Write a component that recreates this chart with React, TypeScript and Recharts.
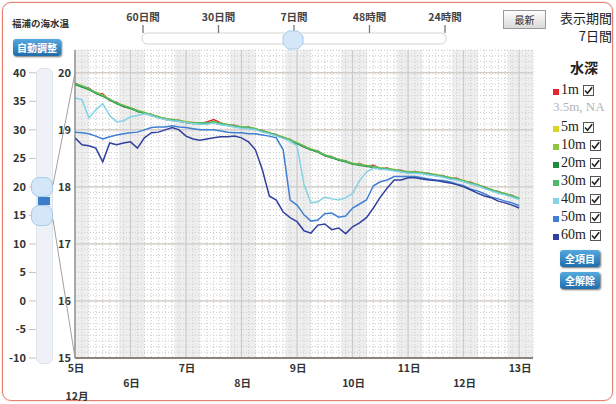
import React from 'react';
import { LineChart, Line, XAxis, YAxis, CartesianGrid, ReferenceArea } from 'recharts';

// 5日 00:00 からの経過時間 (3時間ごと)
const hours = [
  0, 3, 6, 9, 12, 15, 18, 21, 24, 27, 30, 33, 36, 39, 42, 45, 48, 51, 54, 57, 60, 63, 66, 69, 72, 75,
  78, 81, 84, 87, 90, 93, 96, 99, 102, 105, 108, 111, 114, 117, 120, 123, 126, 129, 132, 135, 138,
  141, 144, 147, 150, 153, 156, 159, 162, 165, 168, 171, 174, 177, 180, 183, 186, 189, 192,
];

const m1 = [
  19.82, 19.76, 19.73, 19.64, 19.63, 19.52, 19.48, 19.41, 19.38, 19.34, 19.29, 19.27, 19.22, 19.2, 19.17,
  19.17, 19.13, 19.13, 19.11, 19.14, 19.18, 19.12, 19.08, 19.08, 19.04, 19.05, 19.01, 18.99, 18.94, 18.92,
  18.86, 18.83, 18.76, 18.72, 18.65, 18.63, 18.55, 18.53, 18.47, 18.46, 18.4, 18.41, 18.36, 18.38, 18.32,
  18.33, 18.29, 18.29, 18.25, 18.27, 18.24, 18.24, 18.2, 18.2, 18.15, 18.15, 18.1, 18.08, 18.03, 18.0,
  17.94, 17.92, 17.87, 17.85, 17.79,
];
const m5 = [
  19.8, 19.78, 19.71, 19.66, 19.61, 19.54, 19.46, 19.43, 19.38, 19.34, 19.31, 19.25, 19.24, 19.18, 19.19,
  19.15, 19.15, 19.11, 19.13, 19.11, 19.15, 19.1, 19.1, 19.06, 19.06, 19.03, 19.03, 18.97, 18.96, 18.9,
  18.88, 18.81, 18.78, 18.7, 18.67, 18.61, 18.57, 18.51, 18.49, 18.44, 18.42, 18.38, 18.38, 18.34, 18.34,
  18.31, 18.31, 18.27, 18.27, 18.25, 18.26, 18.22, 18.22, 18.18, 18.17, 18.13, 18.12, 18.06, 18.05, 17.98,
  17.96, 17.9, 17.89, 17.83, 17.81,
];
const m10 = [
  19.79, 19.76, 19.7, 19.66, 19.59, 19.54, 19.46, 19.43, 19.37, 19.34, 19.29, 19.27, 19.22, 19.2, 19.17,
  19.16, 19.13, 19.13, 19.11, 19.12, 19.13, 19.12, 19.08, 19.07, 19.04, 19.05, 19.01, 18.98, 18.94, 18.91,
  18.86, 18.83, 18.76, 18.72, 18.65, 18.62, 18.55, 18.53, 18.47, 18.45, 18.4, 18.4, 18.36, 18.36, 18.32,
  18.32, 18.29, 18.28, 18.25, 18.26, 18.24, 18.23, 18.2, 18.19, 18.15, 18.14, 18.1, 18.07, 18.03, 17.99,
  17.94, 17.91, 17.87, 17.84, 17.79,
];
const m20 = [
  19.8, 19.75, 19.71, 19.64, 19.59, 19.52, 19.46, 19.41, 19.38, 19.32, 19.29, 19.25, 19.22, 19.18, 19.17,
  19.15, 19.13, 19.11, 19.11, 19.11, 19.12, 19.1, 19.08, 19.06, 19.04, 19.03, 19.01, 18.97, 18.94, 18.9,
  18.86, 18.81, 18.76, 18.7, 18.65, 18.61, 18.55, 18.51, 18.47, 18.44, 18.4, 18.38, 18.36, 18.34, 18.32,
  18.31, 18.29, 18.27, 18.25, 18.25, 18.24, 18.22, 18.2, 18.18, 18.15, 18.13, 18.1, 18.06, 18.03, 17.98,
  17.94, 17.9, 17.87, 17.83, 17.79,
];
const m30 = [
  19.81, 19.77, 19.72, 19.65, 19.6, 19.53, 19.47, 19.42, 19.39, 19.33, 19.3, 19.26, 19.23, 19.19, 19.18,
  19.16, 19.14, 19.12, 19.12, 19.12, 19.14, 19.11, 19.09, 19.07, 19.05, 19.04, 19.02, 18.98, 18.95, 18.91,
  18.87, 18.82, 18.77, 18.71, 18.66, 18.62, 18.56, 18.52, 18.48, 18.45, 18.41, 18.39, 18.37, 18.35, 18.33,
  18.32, 18.3, 18.28, 18.26, 18.26, 18.25, 18.23, 18.21, 18.19, 18.16, 18.14, 18.11, 18.07, 18.04, 17.99,
  17.95, 17.91, 17.88, 17.84, 17.8,
];
const m40 = [
  19.56, 19.53, 19.21, 19.35, 19.46, 19.25, 19.14, 19.16, 19.23, 19.25, 19.28, 19.25, 19.21, 19.18, 19.16,
  19.15, 19.13, 19.11, 19.1, 19.1, 19.12, 19.09, 19.07, 19.05, 19.03, 19.02, 19.0, 18.96, 18.93, 18.89,
  18.85, 18.8, 18.72, 18.04, 17.72, 17.74, 17.82, 17.79, 17.77, 17.81, 17.88, 18.11, 18.26, 18.33, 18.31,
  18.3, 18.28, 18.26, 18.24, 18.24, 18.23, 18.21, 18.19, 18.17, 18.14, 18.12, 18.09, 18.05, 18.02, 17.97,
  17.93, 17.89, 17.86, 17.82, 17.78,
];
const m50 = [
  18.96, 18.95, 18.93, 18.89, 18.84, 18.88, 18.91, 18.93, 18.95, 18.96, 19.0, 19.04, 19.05, 19.05, 19.07,
  19.05, 19.04, 19.02, 19.0, 19.0, 19.0, 18.98, 18.96, 18.95, 18.95, 18.93, 18.93, 18.91, 18.89, 18.86,
  18.65, 17.77, 17.68, 17.51, 17.4, 17.42, 17.53, 17.54, 17.47, 17.49, 17.63, 17.7, 17.77, 18.02, 18.09,
  18.12, 18.18, 18.18, 18.18, 18.18, 18.16, 18.14, 18.12, 18.11, 18.09, 18.05, 18.02, 17.96, 17.93, 17.88,
  17.82, 17.79, 17.75, 17.72, 17.67,
];
const m60 = [
  18.86, 18.74, 18.72, 18.68, 18.44, 18.77, 18.74, 18.77, 18.79, 18.68, 18.86, 18.95, 18.96, 19.0, 19.04,
  19.0, 18.89, 18.84, 18.82, 18.84, 18.86, 18.88, 18.88, 18.89, 18.86, 18.79, 18.65, 18.3, 17.84, 17.77,
  17.56, 17.46, 17.39, 17.23, 17.19, 17.33, 17.35, 17.25, 17.28, 17.18, 17.3, 17.37, 17.46, 17.63, 17.82,
  17.98, 18.12, 18.12, 18.16, 18.16, 18.14, 18.12, 18.11, 18.09, 18.07, 18.04, 18.0, 17.95, 17.89, 17.84,
  17.81, 17.75, 17.72, 17.68, 17.63,
];

const dayTicks = [0, 24, 48, 72, 96, 120, 144, 168, 192];
const dayLabels = ['5日', '6日', '7日', '8日', '9日', '10日', '11日', '12日', '13日'];
const tempTicks = [15, 16, 17, 18, 19, 20];
const rangeTicks = [-10, -5, 0, 5, 10, 15, 20, 25, 30, 35, 40];
// 夜間 (灰色の帯)
const nightBands = [
  [0, 6], [19, 30], [43, 54], [67, 78], [91, 102], [115, 126], [139, 150], [163, 174], [187, 198],
];
const periodLabels = ['60日間', '30日間', '7日間', '48時間', '24時間'];

const series = [
  { key: 'm1', name: '1m', color: '#e3262b' },
  { key: 'm5', name: '5m', color: '#d9d528' },
  { key: 'm10', name: '10m', color: '#8cc63f' },
  { key: 'm20', name: '20m', color: '#1f8a3b' },
  { key: 'm30', name: '30m', color: '#4dba6a' },
  { key: 'm40', name: '40m', color: '#86d2e6' },
  { key: 'm50', name: '50m', color: '#3f80d2' },
  { key: 'm60', name: '60m', color: '#31409e' },
];

const rows = hours.map((h, i) => ({
  h, m1: m1[i], m5: m5[i], m10: m10[i], m20: m20[i], m30: m30[i], m40: m40[i], m50: m50[i], m60: m60[i],
}));

const W = 616;
const H = 404;
const TOP = 50;
const BOTTOM = 358;
const LEFT = 75;
const RIGHT = 533;
const T_DOMAIN = [15, 20.4];
const R_DOMAIN = [-10, 44];

const jp = '"Noto Sans CJK JP", "Noto Sans", sans-serif';
const serif = '"Liberation Serif", "DejaVu Serif", "Noto Sans CJK JP", serif';

const minorY: number[] = [];
for (let v = 151; v <= 204; v++) minorY.push(v / 10);
const minorX: number[] = [];
for (let v = 0; v <= 198; v += 3) minorX.push(v);

const yOf = (v: number, d: number[]) => TOP + ((d[1] - v) / (d[1] - d[0])) * (BOTTOM - TOP);

const DayTick = (props: any) => {
  const { x, y, payload } = props;
  const idx = dayTicks.indexOf(payload.value);
  const odd = idx % 2 === 1;
  return (
    <g>
      <text x={x + 1} y={y + (odd ? 29 : 14)} textAnchor="middle" fontSize={10.5} fontWeight="bold" fill="#333" fontFamily={jp}>
        {dayLabels[idx]}
      </text>
      {idx === 0 && (
        <text x={x + 2} y={y + 42} textAnchor="middle" fontSize={10.5} fontWeight="bold" fill="#333" fontFamily={jp}>
          12月
        </text>
      )}
    </g>
  );
};

const Check = () => (
  <svg width="11" height="11" style={{ marginLeft: 4 }}>
    <rect x="0.5" y="0.5" width="10" height="10" fill="#fff" stroke="#555" />
    <path d="M2 5.5 L4.5 8.2 L9.2 2.2" stroke="#222" strokeWidth="1.6" fill="none" />
  </svg>
);

const blueBtn: React.CSSProperties = {
  position: 'absolute',
  background: 'linear-gradient(#55a9de, #1f6dab)',
  color: '#fff',
  fontSize: 10,
  fontWeight: 'bold',
  borderRadius: 3,
  boxShadow: '1px 1px 2px rgba(0,0,0,0.55)',
  display: 'flex',
  alignItems: 'center',
  justifyContent: 'center',
  fontFamily: jp,
};

const legendRows = [
  { ...series[0], y: 90 },
  { ...series[1], y: 127 },
  { ...series[2], y: 145 },
  { ...series[3], y: 163 },
  { ...series[4], y: 181 },
  { ...series[5], y: 199 },
  { ...series[6], y: 217 },
  { ...series[7], y: 235 },
];

export default function App() {
  const hiY = yOf(20, R_DOMAIN);
  const loY = yOf(15, R_DOMAIN);
  const topT = yOf(20, T_DOMAIN);
  const sliderX0 = 143;
  const sliderX1 = 445;
  return (
    <div style={{ position: 'fixed', left: 0, top: 0, width: W, height: H, background: '#fff', fontFamily: jp, overflow: 'hidden' }}>
      <div style={{ position: 'absolute', left: 2, top: 2, width: 609, height: 397, border: '1.5px solid #e3806f', borderRadius: 9, boxShadow: '0 0 2px rgba(225,110,90,0.5)' }} />

      <div style={{ position: 'absolute', left: 0, top: 0 }}>
        <LineChart width={W} height={H} data={rows} margin={{ top: TOP, right: W - RIGHT, bottom: 0, left: 0 }}>
          <CartesianGrid yAxisId="a" horizontalValues={minorY} verticalValues={minorX} stroke="#cacaca" strokeDasharray="1 2" />
          <CartesianGrid yAxisId="a" horizontalValues={[16, 17, 18, 19, 20]} vertical={false} stroke="#c6bcb2" />
          <CartesianGrid yAxisId="a" verticalValues={dayTicks} horizontal={false} stroke="#c4c4c4" />
          {nightBands.map(([a, b], i) => (
            <ReferenceArea key={i} yAxisId="a" x1={a} x2={b} fill="#d2d2d2" fillOpacity={0.38} stroke="none" ifOverflow="hidden" />
          ))}
          <XAxis
            dataKey="h"
            type="number"
            domain={[0, 198]}
            ticks={dayTicks}
            interval={0}
            tick={<DayTick />}
            tickLine={false}
            tickSize={0}
            tickMargin={0}
            axisLine={{ stroke: '#8f8279', strokeWidth: 2 }}
            height={46}
            allowDataOverflow
          />
          <YAxis
            yAxisId="a"
            domain={T_DOMAIN}
            ticks={tempTicks}
            interval={0}
            width={38}
            tickLine={false}
            tickSize={0}
            tickMargin={4}
            axisLine={{ stroke: '#777' }}
            tick={{ fontSize: 11, fill: '#333', fontWeight: 'bold', fontFamily: jp }}
            allowDataOverflow
          />
          <YAxis
            yAxisId="z"
            domain={R_DOMAIN}
            ticks={rangeTicks}
            interval={0}
            width={37}
            axisLine={false}
            tickLine={{ stroke: '#c4c4c4' }}
            tickSize={8}
            tickMargin={3}
            tick={{ fontSize: 11, fill: '#333', fontWeight: 'bold', fontFamily: jp }}
            allowDataOverflow
          />
          {series.map((s) => (
            <Line
              key={s.key}
              yAxisId="a"
              type="linear"
              dataKey={s.key}
              stroke={s.color}
              strokeWidth={1.5}
              dot={false}
              isAnimationActive={false}
            />
          ))}
        </LineChart>
      </div>

      {/* ズーム範囲スライダー */}
      <div style={{ position: 'absolute', left: 36, top: 68, width: 15, height: 294, background: '#eef2f6', border: '1px solid #dfe5ec', borderRadius: 6 }} />
      <div style={{ position: 'absolute', left: 38, top: hiY + 10, width: 12, height: loY - hiY - 20, background: '#3b7dc8' }} />
      <div style={{ position: 'absolute', left: 31, top: hiY - 10, width: 22, height: 20, background: '#d3e7f8', border: '1px solid #a9cbe8', borderRadius: 8, boxSizing: 'border-box' }} />
      <div style={{ position: 'absolute', left: 31, top: loY - 10, width: 22, height: 21, background: '#d3e7f8', border: '1px solid #a9cbe8', borderRadius: 8, boxSizing: 'border-box' }} />
      <svg style={{ position: 'absolute', left: 0, top: 0 }} width={W} height={H} pointerEvents="none">
        <line x1={53} y1={hiY - 2} x2={LEFT} y2={topT} stroke="#a89e96" strokeWidth={1} />
        <line x1={53} y1={loY + 4} x2={LEFT} y2={BOTTOM} stroke="#a89e96" strokeWidth={1} />
        {/* 表示期間スライダー */}
        <rect x={sliderX0 - 1} y={33} width={sliderX1 - sliderX0 + 2} height={11} rx={5} fill="#fff" stroke="#d4d4d4" />
        {periodLabels.map((p, i) => {
          const x = sliderX0 + (i * (sliderX1 - sliderX0)) / 4;
          return (
            <g key={p}>
              <line x1={x} y1={25} x2={x} y2={33} stroke="#777" strokeWidth={1.3} />
              <text x={x} y={21} textAnchor="middle" fontSize={10.5} fontWeight="bold" fill="#444" fontFamily={jp}>{p}</text>
            </g>
          );
        })}
        <path d="M288 31 L298 31 L303 36 L303 44 L298 49 L288 49 L283 44 L283 36 Z" fill="#d3e7f8" stroke="#a9cbe8" />
      </svg>

      <div style={{ position: 'absolute', left: 12, top: 16, fontSize: 9.5, fontWeight: 'bold', color: '#333' }}>福浦の海水温</div>
      <div style={{ ...blueBtn, left: 13, top: 39, width: 48, height: 17 }}>自動調整</div>

      <div style={{ position: 'absolute', left: 503, top: 10, width: 41, height: 17, border: '1px solid #9a9a9a', background: 'linear-gradient(#fdfdfd, #dadada)', fontSize: 10, color: '#333', display: 'flex', alignItems: 'center', justifyContent: 'center' }}>最新</div>
      <div style={{ position: 'absolute', right: 4, top: 9, fontSize: 13, lineHeight: '17px', color: '#222' }}>表示期間</div>
      <div style={{ position: 'absolute', right: 4, top: 27, fontSize: 13, lineHeight: '17px', color: '#222' }}>7日間</div>
      <div style={{ position: 'absolute', left: 570, top: 57, fontSize: 14, fontWeight: 'bold', color: '#222' }}>水深</div>

      {legendRows.map((r) => (
        <div key={r.key} style={{ position: 'absolute', left: 553, top: r.y - 9, height: 18, display: 'flex', alignItems: 'center', fontFamily: serif, fontSize: 14, color: '#222' }}>
          <span style={{ width: 6, height: 6, background: r.color, display: 'inline-block', marginRight: 2, marginTop: 3 }} />
          <span>{r.name}</span>
          <Check />
        </div>
      ))}
      <div style={{ position: 'absolute', left: 553, top: 99, fontFamily: serif, fontSize: 13, color: '#b4b4b4' }}>3.5m, NA</div>

      <div style={{ ...blueBtn, left: 560, top: 250, width: 40, height: 17 }}>全項目</div>
      <div style={{ ...blueBtn, left: 560, top: 272, width: 40, height: 17 }}>全解除</div>
    </div>
  );
}
